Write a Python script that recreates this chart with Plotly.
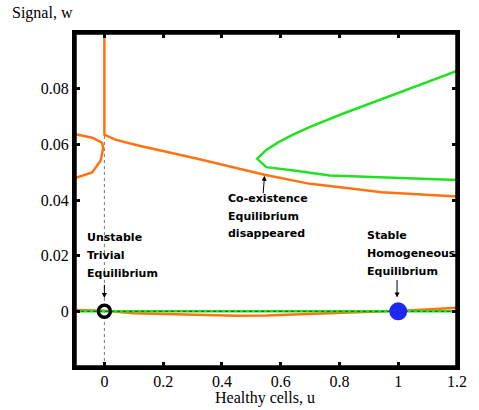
import plotly.graph_objects as go

# ---- data ----
orange_left_u = [-0.1, -0.0945, -0.0415, -0.0083, -0.004, -0.0126, -0.0415, -0.0945, -0.1]
orange_left_w = [0.0637, 0.0635, 0.0624, 0.0606, 0.0588, 0.0542, 0.0499, 0.0481, 0.0479]

orange_main_u = [0.0, 0.0, 0.015, 0.037, 0.115, 0.313, 0.545, 0.70, 0.81, 0.944, 1.2]
orange_main_w = [0.1, 0.0635, 0.0628, 0.0617, 0.0596, 0.0549, 0.0491, 0.0458, 0.0445, 0.0428, 0.0413]

orange_low_u = [-0.1, 0.0, 0.1, 0.3, 0.45, 0.55, 0.75, 0.95, 1.05, 1.2]
orange_low_w = [0.0005, 0.0002, -0.0007, -0.0013, -0.0016, -0.0015, -0.0008, 0.0, 0.0004, 0.0013]

green_branch_u = [1.2, 1.087, 0.987, 0.90, 0.811, 0.70, 0.640, 0.590, 0.551, 0.520, 0.551, 0.645, 0.767, 1.032, 1.2]
green_branch_w = [0.0864, 0.0820, 0.0781, 0.0746, 0.0710, 0.0663, 0.0634, 0.0606, 0.058, 0.0548, 0.0518, 0.0506, 0.0488, 0.0478, 0.0472]

green_zero_u = [-0.1, 1.2]
green_zero_w = [0.0, 0.0]

dotted_u = [0.0, 0.0]
dotted_w = [-0.02, 0.1]

unstable_pt = (0.0, 0.0)
stable_pt = (1.0, 0.0)

x_ticks = [0, 0.2, 0.4, 0.6, 0.8, 1.0, 1.2]
x_tick_labels = ["0", "0.2", "0.4", "0.6", "0.8", "1", "1.2"]
y_ticks = [0, 0.02, 0.04, 0.06, 0.08]
y_tick_labels = ["0", "0.02", "0.04", "0.06", "0.08"]

labels = {
    "unstable": (["Unstable", "Trivial", "Equilibrium"], -0.0647, [0.02655, 0.0201, 0.01363]),
    "coex": (["Co-existence", "Equilibrium", "disappeared"], 0.415, [0.04054, 0.03408, 0.02798]),
    "stable": (["Stable", "Homogeneous", "Equilibrium"], 0.888, [0.02726, 0.02081, 0.01435]),
}
arrows = [  # (tip_u, tip_w, tail_u, tail_w)
    (0.0, 0.0048, 0.0, 0.0101),
    (0.545, 0.0487, 0.54, 0.0419),
    (0.996, 0.0050, 0.996, 0.0118),
]

ORANGE = "#FF7410"
GREEN = "#22E022"

fig = go.Figure()
fig.add_trace(go.Scatter(x=dotted_u, y=dotted_w, mode="lines",
                         line=dict(color="#777777", width=1, dash="dot")))
fig.add_trace(go.Scatter(x=orange_low_u, y=orange_low_w, mode="lines",
                         line=dict(color=ORANGE, width=2.5)))
fig.add_trace(go.Scatter(x=green_zero_u, y=green_zero_w, mode="lines",
                         line=dict(color=GREEN, width=2.5)))
fig.add_trace(go.Scatter(x=green_zero_u, y=green_zero_w, mode="lines",
                         line=dict(color="#335533", width=1, dash="dot")))
fig.add_trace(go.Scatter(x=orange_left_u, y=orange_left_w, mode="lines",
                         line=dict(color=ORANGE, width=2.5)))
fig.add_trace(go.Scatter(x=orange_main_u, y=orange_main_w, mode="lines",
                         line=dict(color=ORANGE, width=2.5)))
fig.add_trace(go.Scatter(x=green_branch_u, y=green_branch_w, mode="lines",
                         line=dict(color=GREEN, width=2.5)))
fig.add_trace(go.Scatter(x=[unstable_pt[0]], y=[unstable_pt[1]], mode="markers",
                         marker=dict(size=12, color="rgba(0,0,0,0)",
                                     line=dict(color="black", width=3.5))))
fig.add_trace(go.Scatter(x=[stable_pt[0]], y=[stable_pt[1]], mode="markers",
                         marker=dict(size=18, color="#1E28F0", line=dict(width=0))))

for key, (lines, u, ws) in labels.items():
    for txt, w in zip(lines, ws):
        fig.add_annotation(x=u, y=w, xref="x", yref="y", text=txt, showarrow=False,
                           xanchor="left", yanchor="middle",
                           font=dict(family="DejaVu Sans", size=11, color="black",
                                     weight="bold"))

for tu, tw, au, aw in arrows:
    fig.add_annotation(x=tu, y=tw, ax=au, ay=aw, xref="x", yref="y", axref="x", ayref="y",
                       text="", showarrow=True, arrowhead=2, arrowsize=1,
                       arrowwidth=1, arrowcolor="black")

serif = "Liberation Serif"
fig.add_annotation(x=-0.171, y=1.06, xref="paper", yref="paper", text="Signal, w",
                   showarrow=False, xanchor="left", yanchor="middle",
                   font=dict(family=serif, size=16, color="black"))
fig.add_annotation(x=0.497, y=-0.092, xref="paper", yref="paper", text="Healthy cells, u",
                   showarrow=False, xanchor="center", yanchor="middle",
                   font=dict(family=serif, size=16, color="black"))

# bold frame
fig.add_shape(type="rect", xref="paper", yref="paper", x0=0, x1=1, y0=0, y1=1,
              line=dict(color="black", width=3.5), layer="above")

axis_common = dict(showgrid=False, zeroline=False, showline=True, linecolor="black",
                   linewidth=3, mirror="ticks", ticks="inside", ticklen=5, tickwidth=3,
                   tickcolor="black", tickfont=dict(family=serif, size=16, color="black"))

fig.update_layout(
    width=479, height=410,
    margin=dict(l=75, r=12, t=33, b=43),
    paper_bgcolor="white", plot_bgcolor="white",
    showlegend=False,
    xaxis=dict(range=[-0.1, 1.2], tickvals=x_ticks, ticktext=x_tick_labels,
               ticklabelstandoff=-2, **axis_common),
    yaxis=dict(range=[-0.02, 0.1], tickvals=y_ticks, ticktext=y_tick_labels,
               **axis_common),
)

fig.write_html("out.html")
